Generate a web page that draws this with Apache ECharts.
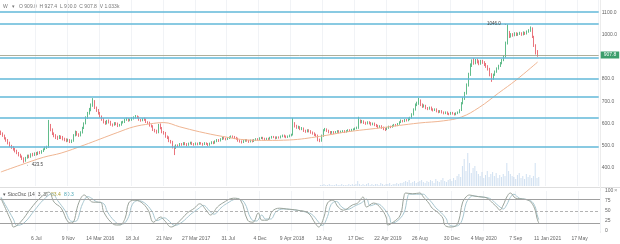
<!DOCTYPE html>
<html><head><meta charset="utf-8">
<script src="https://cdn.jsdelivr.net/npm/echarts@6/dist/echarts.min.js"></script>
<style>html,body{margin:0;padding:0;background:#fff}#c{width:620px;height:244px}</style>
</head><body><div id="c"></div>
<script>
// weekly categories start 16 Feb 2015
const startDate = Date.UTC(2015, 1, 16);
const categoryCount = 338;
const categories = [];
for (let i = 0; i < categoryCount; i++) categories.push(new Date(startDate + i * 7 * 864e5).toISOString().slice(0, 10));

const tickLabels = ['6 Jul','9 Nov','14 Mar 2016','18 Jul','21 Nov','27 Mar 2017','31 Jul','4 Dec','9 Apr 2018','13 Aug','17 Dec','22 Apr 2019','26 Aug','30 Dec','4 May 2020','7 Sep','11 Jan 2021','17 May'];
const tickStart = 20, tickStep = 18;

const priceTicks = [400, 500, 600, 700, 800, 900, 1000, 1100];
const levels = [1100, 1047, 894, 800, 720, 628, 497];
const lastPrice = 907.8;

// [open, close, low, high]
const candles = [
[562,555,548,568],[555,546,540,560],[546,534,528,550],[534,526,518,538],[526,514,506,530],[514,500,494,518],[500,494,486,504],[494,486,478,498],[486,478,470,490],[478,468,462,482],
[468,460,452,472],[460,452,446,464],[452,444,436,456],[444,432,423.5,448],[432,446,428,450],[446,455,442,460],[455,450,444,460],[450,462,446,466],[462,458,452,468],[458,466,454,470],
[466,462,456,472],[462,470,458,474],[470,468,462,476],[468,476,464,480],[476,484,472,488],[484,490,480,496],[490,494,486,500],[494,592,490,616],[592,572,565,598],[572,555,548,578],
[555,545,538,560],[545,538,530,552],[538,534,526,545],[534,542,530,548],[542,538,530,546],[538,530,524,544],[530,528,520,536],[528,524,516,533],[524,526,518,532],[526,518,512,530],
[518,522,512,528],[522,548,518,552],[548,562,542,568],[562,550,545,566],[550,545,540,556],[545,560,542,565],[560,580,555,585],[580,600,575,605],[600,625,596,632],[625,645,620,652],
[645,662,640,670],[662,682,655,690],[682,700,675,714],[700,672,665,705],[672,660,652,676],[660,648,640,665],[648,632,626,652],[632,620,612,636],[620,608,600,625],[608,600,594,612],
[600,612,596,616],[612,608,600,618],[608,596,590,612],[596,594,586,600],[594,602,590,606],[602,598,592,606],[598,590,584,604],[590,594,586,598],[594,605,590,610],[605,606,600,612],
[606,618,602,622],[618,620,612,626],[620,614,608,624],[614,616,610,622],[616,624,612,628],[624,626,618,632],[626,632,622,638],[632,628,622,636],[628,616,612,632],[616,614,608,620],
[614,620,610,624],[620,618,612,626],[618,606,602,622],[606,604,598,610],[604,592,586,608],[592,588,582,596],[588,572,566,592],[572,568,560,576],[568,560,554,572],[560,594,556,598],
[594,580,574,600],[580,562,556,584],[562,558,550,566],[558,542,536,562],[542,538,530,546],[538,522,516,542],[522,518,510,526],[518,495,488,522],[495,490,458,500],[490,502,486,506],
[502,500,494,506],[500,508,496,512],[508,505,500,512],[505,512,502,516],[512,508,502,516],[508,504,498,512],[504,510,500,514],[510,514,506,518],[514,508,503,518],[508,505,500,512],
[505,511,502,515],[511,507,502,514],[507,513,504,517],[513,510,505,516],[510,506,500,513],[506,512,503,516],[512,509,504,515],[509,504,498,512],[504,510,500,514],[510,516,507,520],
[516,512,507,520],[512,520,509,524],[520,526,516,530],[526,522,517,530],[522,530,519,534],[530,536,526,540],[536,532,528,540],[532,530,524,536],[530,534,526,538],[534,538,530,542],
[538,542,534,546],[542,540,535,546],[540,536,530,544],[536,532,527,540],[532,524,518,536],[524,520,514,528],[520,516,510,524],[516,522,512,526],[522,526,518,530],[526,522,518,530],
[522,518,513,526],[518,524,515,528],[524,520,515,528],[520,526,517,530],[526,530,522,534],[530,528,524,534],[528,534,525,538],[534,536,530,540],[536,532,528,540],[532,528,524,536],
[528,532,525,536],[532,530,526,536],[530,536,527,540],[536,540,532,544],[540,538,534,544],[538,534,529,542],[534,538,531,542],[538,536,532,542],[536,542,533,546],[542,546,538,550],
[546,542,537,550],[542,538,534,546],[538,542,535,546],[542,546,538,550],[546,550,542,554],[550,600,546,625],[600,588,582,606],[588,582,576,594],[582,584,576,590],[584,576,570,588],
[576,578,570,584],[578,568,562,582],[568,564,558,572],[564,570,560,574],[570,566,560,574],[566,560,554,570],[560,556,550,564],[556,550,544,560],[550,546,540,554],[546,528,520,550],
[528,522,516,532],[522,545,518,550],[545,570,540,574],[570,574,565,580],[574,568,562,578],[568,562,556,572],[562,558,552,566],[558,562,554,566],[562,558,552,566],[558,562,555,566],
[562,566,558,570],[566,560,556,570],[560,564,557,568],[564,566,560,570],[566,562,557,570],[562,566,559,570],[566,570,562,574],[570,568,563,574],[568,572,565,576],[572,574,568,578],
[574,578,570,582],[578,580,574,586],[580,612,576,630],[612,606,600,618],[606,610,601,616],[610,604,598,614],[604,600,594,608],[600,606,596,610],[606,602,596,610],[602,596,590,606],
[596,600,592,604],[600,594,588,604],[594,590,584,598],[590,584,578,594],[584,588,580,592],[588,582,576,592],[582,576,570,586],[576,574,566,580],[574,580,570,584],[580,586,576,590],
[586,584,579,590],[584,590,581,594],[590,594,586,598],[594,592,587,598],[592,598,588,602],[598,606,594,610],[606,612,602,618],[612,610,605,616],[610,616,606,620],[616,614,609,620],
[614,620,610,626],[620,626,615,630],[626,640,622,646],[640,662,636,668],[662,684,658,690],[684,690,678,698],[690,702,684,715],[702,684,678,708],[684,676,670,690],[676,680,672,686],
[680,670,664,684],[670,666,660,674],[666,672,662,676],[672,664,658,676],[664,660,654,668],[660,664,656,668],[664,656,650,668],[656,652,646,660],[652,656,648,660],[656,650,645,660],
[650,646,641,654],[646,650,642,654],[650,644,639,654],[644,642,637,648],[642,648,639,652],[648,644,640,652],[644,640,636,648],[640,646,637,650],[646,650,642,654],[650,660,646,664],
[660,690,656,696],[690,712,686,718],[712,735,706,742],[735,772,730,780],[772,820,766,828],[820,862,814,870],[862,880,854,888],[880,872,864,894],[872,884,866,890],[884,878,870,892],
[878,870,862,884],[870,880,864,886],[880,874,868,886],[874,866,858,880],[866,858,850,872],[858,846,838,862],[846,820,812,850],[820,800,787,826],[800,818,796,824],[818,832,814,838],
[832,846,828,852],[846,858,842,864],[858,870,854,876],[870,884,866,890],[884,900,880,906],[900,960,896,968],[960,1008,955,1046],[1008,990,984,1016],[990,1000,986,1006],[1000,996,990,1006],
[996,1004,992,1010],[1004,998,993,1010],[998,1002,994,1008],[1002,1006,998,1012],[1006,1000,994,1010],[1000,1008,996,1014],[1008,1004,998,1012],[1004,1012,1000,1018],[1012,1018,1008,1024],[1018,1028,1012,1036],
[1028,990,984,1032],[990,950,944,994],[950,918,910,956],[918,907.8,900,930]
];

// moving average read at [week index, value]
const maLine = [[0,382],[11,413],[24,448],[34,467],[47,503],[56,530],[66,560],[75,585],[84,598],[92,604],[101,585],[112,563],[125,542],[139,526],[150,524],[163,526],[180,542],[195,562],[214,580],[236,602],[250,612],[260,629],[270,672],[281,737],[291,796],[303,876]];

// volume bar heights from week 180 on
const volumeStart = 180;
const volumes = [1,1,2,1,1,2,1,1,1,2,1,1,2,1,1,1,2,1,2,1,2,
5,
2,1,2,1,2,3,1,2,1,2,2,1,3,2,1,2,2,3,1,2,2,3,2,3,
3,4,5,4,6,3,4,5,3,4,5,6,4,3,5,
4,6,5,3,7,5,4,6,8,5,4,6,7,5,
8,6,10,12,9,
20,27,15,
33,
23,13,18,20,15,12,
10,14,8,11,15,9,12,14,10,13,8,11,9,12,10,
23,15,12,10,
9,7,11,13,8,10,7,12,9,11,8,10,
23,
8,9];

const stochK = [[0,82],[6,22],[7,10],[11,22],[17,57],[22,82],[27,97],[30,72],[34,57],[38,22],[40,20],[44,72],[47,90],[49,82],[52,72],[56,72],[58,47],[62,22],[65,15],[67,15],[70,32],[72,70],[75,77],[79,72],[83,52],[86,22],[90,35],[92,27],[96,10],[100,22],[105,45],[109,57],[112,68],[116,50],[118,40],[122,60],[125,70],[131,82],[135,77],[139,27],[142,22],[145,45],[147,27],[150,27],[153,50],[157,57],[161,55],[167,52],[173,45],[177,20],[179,10],[182,35],[184,70],[187,77],[190,60],[193,52],[198,65],[201,70],[204,85],[206,60],[210,70],[214,57],[217,35],[218,15],[221,22],[225,40],[227,85],[228,95],[232,93],[236,95],[238,85],[241,70],[243,57],[246,47],[249,32],[250,15],[253,10],[256,12],[258,27],[260,70],[262,85],[264,90],[267,87],[271,85],[274,82],[277,70],[280,57],[281,52],[283,65],[285,85],[287,95],[290,82],[294,80],[297,77],[299,70],[301,52],[302,32],[303,20]];
const stochD = [[0,85],[7,30],[9,14],[13,20],[19,52],[24,78],[29,93],[32,76],[36,52],[40,24],[42,24],[46,68],[49,86],[51,82],[54,73],[58,68],[60,48],[64,25],[67,17],[69,18],[72,36],[74,66],[77,76],[81,70],[85,50],[88,26],[92,33],[94,28],[98,14],[102,22],[107,42],[111,55],[114,64],[118,48],[120,42],[124,58],[127,68],[133,80],[137,72],[141,30],[144,25],[147,40],[149,30],[152,30],[155,48],[159,55],[163,54],[169,50],[175,42],[179,22],[181,14],[184,36],[186,66],[189,74],[192,60],[195,54],[200,64],[203,70],[206,80],[208,63],[212,68],[216,55],[219,34],[220,20],[223,24],[227,45],[229,82],[230,92],[234,92],[238,92],[240,84],[243,70],[245,58],[248,46],[251,30],[252,18],[255,12],[258,15],[260,30],[262,68],[264,83],[266,88],[269,86],[273,84],[276,80],[279,68],[282,57],[283,55],[285,66],[287,84],[289,92],[292,82],[296,79],[299,74],[301,60],[302,42],[303,28]];

const highMark = {index: 286, value: 1046.0};
const lowMark = {index: 13, value: 423.5};

const FONT = 'Liberation Sans, Arial, sans-serif';
const tickShown = (idx) => idx >= tickStart && (idx - tickStart) % tickStep === 0;
const vGrid = {show: true, interval: (idx) => tickShown(idx), lineStyle: {color: '#f1f3f6', width: 1}};

const chart = echarts.init(document.getElementById('c'), null, {renderer: 'canvas'});
chart.setOption({
  animation: false,
  backgroundColor: '#ffffff',
  textStyle: {fontFamily: FONT},
  grid: [
    {left: 0, right: 20, top: 0, height: 186},
    {left: 0, right: 20, top: 140, height: 46},
    {left: 0, right: 20, top: 191, height: 40}
  ],
  xAxis: [
    {type: 'category', gridIndex: 0, data: categories, axisLine: {show: false}, axisTick: {show: false}, axisLabel: {show: false}, splitLine: vGrid},
    {type: 'category', gridIndex: 1, data: categories, axisLine: {show: false}, axisTick: {show: false}, axisLabel: {show: false}, splitLine: {show: false}},
    {type: 'category', gridIndex: 2, data: categories, axisLine: {show: false}, axisTick: {show: false}, splitLine: vGrid,
      axisLabel: {show: true, interval: (idx) => tickShown(idx), formatter: (v, idx) => tickLabels[(idx - tickStart) / tickStep] || '', fontSize: 5, color: '#666', margin: 5, fontFamily: FONT}}
  ],
  yAxis: [
    {type: 'value', gridIndex: 0, position: 'right', min: 319, max: 1155, axisLine: {show: false}, axisTick: {show: false}, splitLine: {show: false},
      axisLabel: {customValues: priceTicks, fontSize: 5, color: '#666', margin: 3, formatter: (v) => Number(v).toFixed(1), fontFamily: FONT}},
    {type: 'value', gridIndex: 1, min: 0, max: 46, show: false},
    {type: 'value', gridIndex: 2, position: 'right', min: 0, max: 100, interval: 25, axisLine: {show: false}, axisTick: {show: false}, splitLine: {show: false},
      axisLabel: {fontSize: 5, color: '#666', margin: 5, fontFamily: FONT}}
  ],
  series: [
    {type: 'bar', xAxisIndex: 1, yAxisIndex: 1, data: volumes.map((v, k) => [volumeStart + k, v]), barWidth: 1, itemStyle: {color: 'rgba(120,165,215,0.35)'}, silent: true},
    {type: 'line', xAxisIndex: 0, yAxisIndex: 0, data: maLine, smooth: 0.4, symbol: 'none', lineStyle: {color: '#efb592', width: 1}, silent: true},
    {type: 'candlestick', xAxisIndex: 0, yAxisIndex: 0, data: candles, barWidth: 1.1,
      itemStyle: {color: '#3aab6d', color0: '#e5505a', borderColor: '#3aab6d', borderColor0: '#e5505a', borderWidth: 0.8},
      markLine: {silent: true, symbol: 'none', animation: false,
        data: levels.map(v => ({yAxis: v, lineStyle: {color: '#62b8d8', width: 1.5, type: 'solid'}, label: {show: false}})).concat([
          {yAxis: lastPrice, lineStyle: {color: '#9a9a82', width: 0.8, type: 'solid'},
            label: {show: true, position: 'end', formatter: '907.8', color: '#fff', backgroundColor: '#3d9e6c', padding: [1, 3, 1, 3], fontSize: 5, distance: 2, fontFamily: FONT}}
        ])},
      markPoint: {silent: true, symbol: 'circle', symbolSize: 0, data: [
        {coord: [highMark.index, highMark.value], label: {show: true, position: 'left', distance: 1, formatter: highMark.value.toFixed(1) + ' →', fontSize: 4.5, color: '#444', fontFamily: FONT}},
        {coord: [lowMark.index, lowMark.value], label: {show: true, position: 'right', distance: 2, offset: [0, 2], formatter: '← ' + lowMark.value.toFixed(1), fontSize: 4.5, color: '#444', fontFamily: FONT}}
      ]}
    },
    {type: 'line', xAxisIndex: 2, yAxisIndex: 2, data: stochD, smooth: 0.4, symbol: 'none', lineStyle: {color: '#a7c6cf', width: 1}, silent: true},
    {type: 'line', xAxisIndex: 2, yAxisIndex: 2, data: stochK, smooth: 0.4, symbol: 'none', lineStyle: {color: '#9aa39a', width: 1}, silent: true,
      markLine: {silent: true, symbol: 'none', label: {show: false}, data: [
        {yAxis: 80, lineStyle: {color: '#a0a0a0', width: 1, type: 'solid'}},
        {yAxis: 50, lineStyle: {color: '#a0a0a0', width: 0.8, type: [3, 2]}},
        {yAxis: 20, lineStyle: {color: '#a0a0a0', width: 1, type: 'solid'}}
      ]}}
  ],
  graphic: [
    {type: 'line', shape: {x1: 0, y1: 187.5, x2: 620, y2: 187.5}, style: {stroke: '#dedede', lineWidth: 1}, silent: true},
    {type: 'line', shape: {x1: 600.5, y1: 0, x2: 600.5, y2: 233}, style: {stroke: '#ececec', lineWidth: 1}, silent: true},
    {type: 'text', left: 3, top: 4, style: {text: 'W   ▾   O 909.0  H 927.4  L 900.0  C 907.8  V 1.033k', fontSize: 5, fill: '#777', fontFamily: FONT}, silent: true},
    {type: 'text', left: 3, top: 189, style: {
      text: '{a|▾ StocOsc (14, 3, 3)} {b|83.4} {c|80.3}', fontFamily: FONT,
      rich: {a: {fontSize: 5, fill: '#555'}, b: {fontSize: 5, fill: '#a89c2e'}, c: {fontSize: 5, fill: '#4aa6b4'}}}, silent: true},
    {type: 'text', left: 614, top: 187, style: {text: '×', fontSize: 6, fill: '#999', fontFamily: FONT}, silent: true}
  ]
});
</script></body></html>
